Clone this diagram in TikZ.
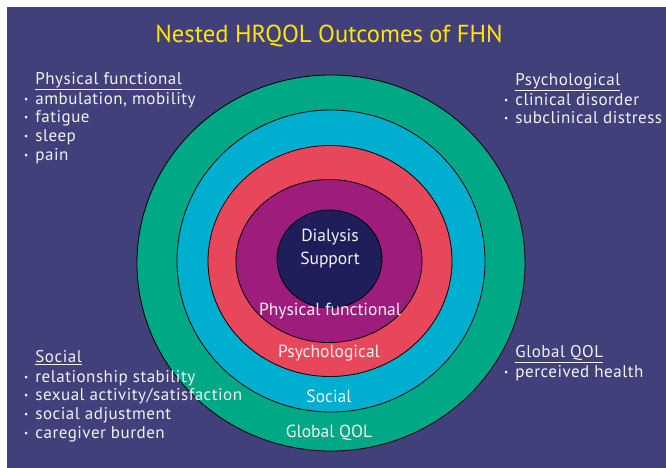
\documentclass[tikz,border=0pt]{standalone}
\usepackage{fontspec}
\setmainfont{PT Sans}
\newfontfamily\listfont[LetterSpace=3]{PT Sans}
\usetikzlibrary{positioning}

\definecolor{slide}{HTML}{42407A}
\definecolor{globalc}{HTML}{00A886}
\definecolor{socialc}{HTML}{00AECF}
\definecolor{psychc}{HTML}{E8465A}
\definecolor{physc}{HTML}{9D1C7C}
\definecolor{dialc}{HTML}{1F1D5A}
\definecolor{titlec}{HTML}{FFE600}
\definecolor{txt}{HTML}{F2F2F2}

\newcommand{\itm}{\raisebox{0.25ex}{\scalebox{0.55}{\textbullet}}}

\tikzset{
	ring/.style={draw=black, line width=0.8pt},
	ringlabel/.style={text=txt, font=\fontsize{17.5}{21}\selectfont, inner sep=0pt},
	outcome/.style={text=txt, font=\listfont\fontsize{17}{18.8}\selectfont, anchor=north west, inner sep=0pt}
}

\begin{document}
\begin{tikzpicture}[x=1pt, y=-1pt]
	\useasboundingbox (0,0) rectangle (666,468);
	\fill[slide] (7,7) rectangle (666,468);

	% nested rings, outside in
	\filldraw[ring, fill=globalc] (331,263) ellipse (194 and 188);
	\filldraw[ring, fill=socialc] (331,261) ellipse (154 and 151);
	\filldraw[ring, fill=psychc] (330,261) ellipse (122 and 115.5);
	\filldraw[ring, fill=physc] (329,261) ellipse (93 and 81.5);
	\filldraw[ring, fill=dialc] (329.5,259) ellipse (52.5 and 49);

	\node[text=titlec, font=\fontsize{24.6}{28}\selectfont] (title) at (329,36) {Nested HRQOL Outcomes of FHN};

	\node[ringlabel] (dial) at (330,249) {\begin{tabular}{@{}c@{}}Dialysis\\[1.5pt] Support\end{tabular}};
	\node[ringlabel] (phys) at (330,311) {Physical functional};
	\node[ringlabel] (psych) at (329,353) {Psychological};
	\node[ringlabel] (soc) at (329,396) {Social};
	\node[ringlabel] (glob) at (329,433) {Global QOL};

	\node[outcome] (physlist) at (24,71) {\begin{tabular}{@{}l@{\hspace{7pt}}l@{}}
		& \underline{Physical functional}\\[1pt]
		\itm & ambulation, mobility\\
		\itm & fatigue\\
		\itm & sleep\\
		\itm & pain
	\end{tabular}};
	\node[outcome] (psychlist) at (504,72) {\begin{tabular}{@{}l@{\hspace{7pt}}l@{}}
		& \underline{Psychological}\\[1pt]
		\itm & clinical disorder\\
		\itm & subclinical distress
	\end{tabular}};
	\node[outcome] (soclist) at (24,349) {\begin{tabular}{@{}l@{\hspace{7pt}}l@{}}
		& \underline{Social}\\[1pt]
		\itm & relationship stability\\
		\itm & sexual activity/satisfaction\\
		\itm & social adjustment\\
		\itm & caregiver burden
	\end{tabular}};
	\node[outcome] (globlist) at (504,344) {\begin{tabular}{@{}l@{\hspace{7pt}}l@{}}
		& \underline{Global QOL}\\[1pt]
		\itm & perceived health
	\end{tabular}};
\end{tikzpicture}
\end{document}
